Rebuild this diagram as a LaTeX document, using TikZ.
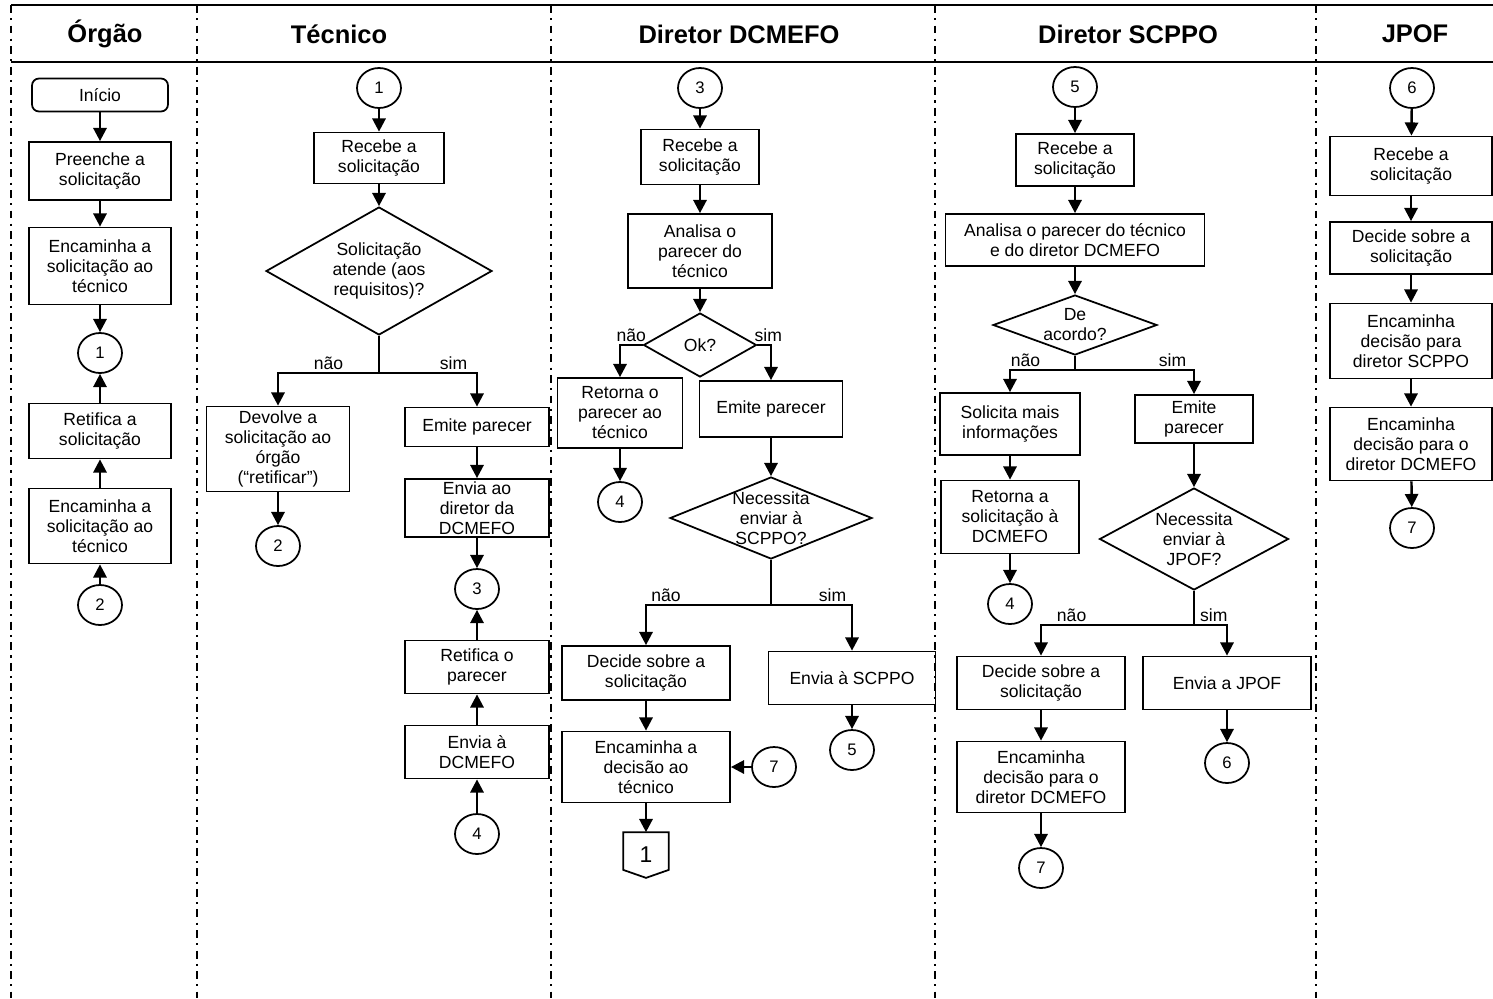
\documentclass[tikz,border=0pt]{standalone}
\usepackage{fontspec}
\setmainfont{Liberation Sans}
\usetikzlibrary{shapes.geometric, arrows.meta}

\begin{document}
\begin{tikzpicture}[x=0.02cm, y=-0.02cm, >={Triangle[length=7.5pt,width=7.5pt]},
  caixa/.style={draw, line width=1pt, align=center, inner sep=1pt, font=\fontsize{10}{11.4}\selectfont},
  terminal/.style={caixa, rounded corners=4pt},
  conector/.style={draw, ellipse, line width=1pt, minimum width=0.88cm, minimum height=0.8cm, inner sep=0pt, font=\fontsize{9.5}{10}\selectfont},
  losango/.style={draw, diamond, line width=1pt, inner sep=0pt},
  txtlosango/.style={align=center, inner sep=0pt, font=\fontsize{10}{11.4}\selectfont},
  seta/.style={->, line width=1.4pt},
  rotulo/.style={font=\fontsize{10}{11}\selectfont, inner sep=1pt, above},
  raia/.style={line width=0.9pt, dash pattern=on 4.5pt off 3pt on 1.2pt off 3pt},
  cabecalho/.style={font=\fontsize{14.5}{16}\selectfont\bfseries}]

\useasboundingbox (0,0) rectangle (1493,998);

% --- Raias e cabecalho ---
\foreach \x in {11,197,551,935,1316}{
  \draw[raia] (\x,5) -- (\x,998);
}
\draw[line width=1.1pt] (11,5) -- (1493,5);
\draw[line width=1.1pt] (11,62) -- (1493,62);

\foreach \x/\t in {105/Órgão, 339/Técnico, 739/Diretor DCMEFO, 1128/Diretor SCPPO, 1415/JPOF}{
  \node[cabecalho] (h\x) at (\x,34) {\t};
}

% --- Orgao ---
\node[terminal, minimum width=2.72cm, minimum height=0.66cm] (inicio) at (100,95) {Início};
\node[caixa, minimum width=2.84cm, minimum height=1.16cm] (preenche) at (100,171) {Preenche a\\solicitação};
\node[caixa, minimum width=2.84cm, minimum height=1.54cm] (encam1) at (100,266) {Encaminha a\\solicitação ao\\técnico};
\node[conector] (c1o) at (100,353) {1};
\node[caixa, minimum width=2.84cm, minimum height=1.1cm] (retifica) at (100,431) {Retifica a\\solicitação};
\node[caixa, minimum width=2.84cm, minimum height=1.5cm] (encam2) at (100,526) {Encaminha a\\solicitação ao\\técnico};
\node[conector] (c2o) at (100,605) {2};

\draw[seta] (inicio) -- (preenche);
\draw[seta] (preenche) -- (encam1);
\draw[seta] (encam1) -- (c1o);
\draw[seta] (retifica) -- (c1o);
\draw[seta] (encam2) -- (retifica);
\draw[seta] (c2o) -- (encam2);

% --- Tecnico ---
\node[conector] (c1t) at (379,88) {1};
\node[caixa, minimum width=2.6cm, minimum height=1.02cm] (recebe1) at (379,158) {Recebe a\\solicitação};
\node[losango, minimum width=4.52cm, minimum height=2.56cm,
  label={[txtlosango]center:Solicitação\\atende (aos\\requisitos)?}] (dec1) at (379,271) {};
\node[caixa, minimum width=2.86cm, minimum height=1.7cm] (devolve) at (278,449) {Devolve a\\solicitação ao\\órgão\\(“retificar”)};
\node[conector] (c2t) at (278,546) {2};
\node[caixa, minimum width=2.88cm, minimum height=0.78cm] (emite1) at (477,427) {Emite parecer};
\node[caixa, minimum width=2.88cm, minimum height=1.16cm] (envia1) at (477,508) {Envia ao\\diretor da\\DCMEFO};
\node[conector] (c3t) at (477,589) {3};
\node[caixa, minimum width=2.88cm, minimum height=1.06cm] (retparecer) at (477,667) {Retifica o\\parecer};
\node[caixa, minimum width=2.88cm, minimum height=1.06cm] (enviadc) at (477,752) {Envia à\\DCMEFO};
\node[conector] (c4t) at (477,834) {4};

\draw[seta] (c1t) -- (recebe1);
\draw[seta] (recebe1) -- (dec1);
\draw[seta] (dec1.south) -- ++(0,37) -| node[rotulo, pos=0.25] (nao1) {não} (devolve.north);
\draw[seta] (dec1.south) -- ++(0,37) -| node[rotulo, pos=0.38] (sim1) {sim} (emite1.north);
\draw[seta] (devolve) -- (c2t);
\draw[seta] (emite1) -- (envia1);
\draw[seta] (envia1) -- (c3t);
\draw[seta] (retparecer) -- (c3t);
\draw[seta] (enviadc) -- (retparecer);
\draw[seta] (c4t) -- (enviadc);

% --- Diretor DCMEFO ---
\node[conector] (c3d) at (700,88) {3};
\node[caixa, minimum width=2.36cm, minimum height=1.1cm] (recebe2) at (700,157) {Recebe a\\solicitação};
\node[caixa, minimum width=2.88cm, minimum height=1.48cm] (analisa1) at (700,251) {Analisa o\\parecer do\\técnico};
\node[losango, minimum width=2.26cm, minimum height=1.28cm,
  label={[txtlosango]center:Ok?}] (ok) at (700,345) {};
\node[caixa, minimum width=2.5cm, minimum height=1.4cm] (retorna1) at (620,413) {Retorna o\\parecer ao\\técnico};
\node[conector] (c4d) at (620,502) {4};
\node[caixa, minimum width=2.86cm, minimum height=1.12cm] (emite2) at (771,409) {Emite parecer};
\node[losango, minimum width=4.04cm, minimum height=1.64cm,
  label={[txtlosango]center:Necessita\\enviar à\\SCPPO?}] (dec2) at (771,518) {};
\node[caixa, minimum width=3.36cm, minimum height=1.08cm] (decide1) at (646,673) {Decide sobre a\\solicitação};
\node[caixa, minimum width=3.34cm, minimum height=1.06cm] (enviasc) at (852,678) {Envia à SCPPO};
\node[conector] (c5d) at (852,750) {5};
\node[caixa, minimum width=3.36cm, minimum height=1.42cm] (encdec) at (646,767) {Encaminha a\\decisão ao\\técnico};
\node[conector] (c7d) at (774,767) {7};
\node[minimum width=0.9cm, minimum height=0.9cm, inner sep=0pt, font=\fontsize{13}{14}\selectfont] (pg1) at (646,855) {1};
\draw[line width=1pt] (pg1.north west) -- (pg1.north east) -- ([yshift=0.16cm]pg1.south east)
  -- (pg1.south) -- ([yshift=0.16cm]pg1.south west) -- cycle;

\draw[seta] (c3d) -- (recebe2);
\draw[seta] (recebe2) -- (analisa1);
\draw[seta] (analisa1) -- (ok);
\draw[seta] (ok.west) -| node[rotulo, pos=0.25] (nao2) {não} (retorna1.north);
\draw[seta] (ok.east) -| node[rotulo, pos=0.4] (sim2) {sim} (emite2.north);
\draw[seta] (retorna1) -- (c4d);
\draw[seta] (emite2) -- (dec2);
\draw[seta] (dec2.south) -- ++(0,45) -| node[rotulo, pos=0.42] (nao3) {não} (decide1.north);
\draw[seta] (dec2.south) -- ++(0,45) -| node[rotulo, pos=0.38] (sim3) {sim} (enviasc.north);
\draw[seta] (decide1) -- (encdec);
\draw[seta] (enviasc) -- (c5d);
\draw[seta] (c7d) -- (encdec);
\draw[seta] (encdec) -- (pg1.north);

% --- Diretor SCPPO ---
\node[conector] (c5s) at (1075,87) {5};
\node[caixa, minimum width=2.36cm, minimum height=1.04cm] (recebe3) at (1075,160) {Recebe a\\solicitação};
\node[caixa, minimum width=5.18cm, minimum height=1.04cm] (analisa2) at (1075,240) {Analisa o parecer do técnico\\e do diretor DCMEFO};
\node[losango, minimum width=3.28cm, minimum height=1.2cm,
  label={[txtlosango]center:De\\acordo?}] (acordo) at (1075,325) {};
\node[caixa, minimum width=2.8cm, minimum height=1.24cm] (solicita) at (1010,424) {Solicita mais\\informações};
\node[caixa, minimum width=2.76cm, minimum height=1.46cm] (retorna2) at (1010,517) {Retorna a\\solicitação à\\DCMEFO};
\node[conector] (c4s) at (1010,604) {4};
\node[caixa, minimum width=2.36cm, minimum height=0.96cm] (emite3) at (1194,419) {Emite\\parecer};
\node[losango, minimum width=3.78cm, minimum height=2.04cm,
  label={[txtlosango]center:Necessita\\enviar à\\JPOF?}] (dec3) at (1194,539) {};
\node[caixa, minimum width=3.36cm, minimum height=1.06cm] (decide2) at (1041,683) {Decide sobre a\\solicitação};
\node[caixa, minimum width=3.36cm, minimum height=1.06cm] (enviajp) at (1227,683) {Envia a JPOF};
\node[conector] (c6s) at (1227,763) {6};
\node[caixa, minimum width=3.36cm, minimum height=1.42cm] (encdir) at (1041,777) {Encaminha\\decisão para o\\diretor DCMEFO};
\node[conector] (c7s) at (1041,868) {7};

\draw[seta] (c5s) -- (recebe3);
\draw[seta] (recebe3) -- (analisa2);
\draw[seta] (analisa2) -- (acordo);
\draw[seta] (acordo.south) -- ++(0,14) -| node[rotulo, pos=0.38] (nao4) {não} (solicita.north);
\draw[seta] (acordo.south) -- ++(0,14) -| node[rotulo, pos=0.41] (sim4) {sim} (emite3.north);
\draw[seta] (solicita) -- (retorna2);
\draw[seta] (retorna2) -- (c4s);
\draw[seta] (emite3) -- (dec3);
\draw[seta] (dec3.south) -- ++(0,34) -| node[rotulo, pos=0.40] (nao5) {não} (decide2.north);
\draw[seta] (dec3.south) -- ++(0,34) -| node[rotulo, pos=0.3] (sim5) {sim} (enviajp.north);
\draw[seta] (decide2) -- (encdir);
\draw[seta] (encdir) -- (c7s);
\draw[seta] (enviajp) -- (c6s);

% --- JPOF ---
\node[conector] (c6j) at (1412,88) {6};
\node[caixa, minimum width=3.24cm, minimum height=1.18cm] (recebe4) at (1411,166) {Recebe a\\solicitação};
\node[caixa, minimum width=3.24cm, minimum height=1.04cm] (decide3) at (1411,248) {Decide sobre a\\solicitação};
\node[caixa, minimum width=3.24cm, minimum height=1.5cm] (encscp) at (1411,341) {Encaminha\\decisão para\\diretor SCPPO};
\node[caixa, minimum width=3.24cm, minimum height=1.46cm] (encdc) at (1411,444) {Encaminha\\decisão para o\\diretor DCMEFO};
\node[conector] (c7j) at (1412,528) {7};

\draw[seta] (c6j) -- (recebe4);
\draw[seta] (recebe4) -- (decide3);
\draw[seta] (decide3) -- (encscp);
\draw[seta] (encscp) -- (encdc);
\draw[seta] (encdc) -- (c7j);

\end{tikzpicture}
\end{document}
